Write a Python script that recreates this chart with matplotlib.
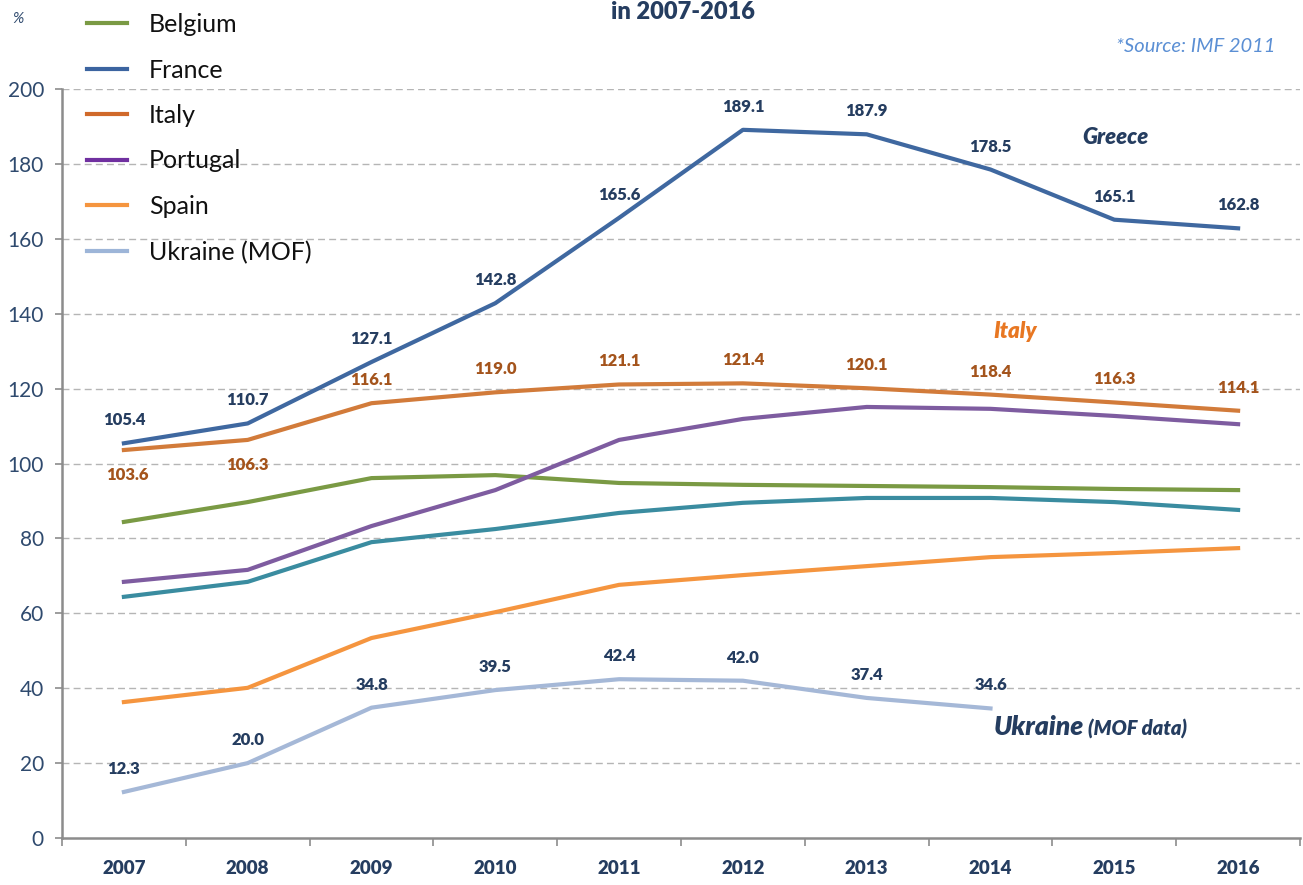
import numpy as np
import matplotlib
matplotlib.use("Agg")
import matplotlib.pyplot as plt
from matplotlib.lines import Line2D

plt.rcParams['font.family'] = ['Lato', 'DejaVu Sans']

years = ["2007", "2008", "2009", "2010", "2011", "2012", "2013", "2014", "2015", "2016"]
greece = [105.4, 110.7, 127.1, 142.8, 165.6, 189.1, 187.9, 178.5, 165.1, 162.8]
italy = [103.6, 106.3, 116.1, 119.0, 121.1, 121.4, 120.1, 118.4, 116.3, 114.1]
portugal = [68.4, 71.6, 83.3, 92.9, 106.3, 111.9, 115.1, 114.6, 112.7, 110.5]
belgium = [84.4, 89.7, 96.1, 96.9, 94.8, 94.3, 94.0, 93.7, 93.2, 92.9]
france = [64.4, 68.4, 79.0, 82.5, 86.8, 89.5, 90.8, 90.8, 89.7, 87.6]
spain = [36.3, 40.1, 53.4, 60.3, 67.6, 70.2, 72.6, 75.0, 76.1, 77.4]
ukraine = [12.3, 20.0, 34.8, 39.5, 42.4, 42.0, 37.4, 34.6]

legend_names = ["Belgium", "France", "Italy", "Portugal", "Spain", "Ukraine (MOF)"]
legend_colors = ["#7A9A44", "#3C64A0", "#D0692A", "#7030A0", "#F5953F", "#9DB5D8"]

c_greece = "#3F68A0"
c_italy = "#D27B3A"
c_portugal = "#7E5CA0"
c_belgium = "#7A9A44"
c_france = "#3A8CA0"
c_spain = "#F5953F"
c_ukraine = "#A5B8D7"
navy = "#253D60"
italy_lbl = "#A4541C"
heavy = "heavy"

fig = plt.figure(figsize=(13.03, 8.85), dpi=100)
ax = fig.add_axes([62/1303, 1-838/885, (1300-62)/1303, (838-89)/885])

x = np.arange(len(years))
lw = 3.0
ax.plot(x, spain, color=c_spain, lw=lw, zorder=3)
ax.plot(x[:len(ukraine)], ukraine, color=c_ukraine, lw=lw, zorder=3)
ax.plot(x, france, color=c_france, lw=lw, zorder=3)
ax.plot(x, belgium, color=c_belgium, lw=lw, zorder=3)
ax.plot(x, portugal, color=c_portugal, lw=lw, zorder=3)
ax.plot(x, italy, color=c_italy, lw=lw, zorder=4)
ax.plot(x, greece, color=c_greece, lw=lw, zorder=5)

lblsize = 12
for xi, v in zip(x, greece):
    ax.annotate(f"{v:.1f}", (xi, v), xytext=(0, 23), textcoords="offset pixels",
                ha="center", va="center", fontsize=lblsize, fontweight=heavy, color=navy)
for i, (xi, v) in enumerate(zip(x, italy)):
    dy = -25 if i < 2 else 23
    ax.annotate(f"{v:.1f}", (xi, v), xytext=(3 if i == 0 else 0, dy), textcoords="offset pixels",
                ha="center", va="center", fontsize=lblsize, fontweight=heavy, color=italy_lbl)
for xi, v in zip(x, ukraine):
    ax.annotate(f"{v:.1f}", (xi, v), xytext=(0, 23), textcoords="offset pixels",
                ha="center", va="center", fontsize=lblsize, fontweight=heavy, color=navy)

ax.set_xlim(-0.5, len(years) - 0.5)
ax.set_ylim(0, 200)
ax.set_yticks(np.arange(0, 201, 20))
ax.set_yticklabels([str(v) for v in range(0, 201, 20)], fontsize=15, color="#2F4A6E")
ax.set_xticks(x)
ax.set_xticklabels(years, fontsize=13.5, fontweight=heavy, color=navy)
ax.set_xticks(np.arange(-0.5, len(years), 1), minor=True)
ax.tick_params(axis="x", which="major", length=0, pad=16)
ax.tick_params(axis="x", which="minor", length=6, width=1.2, color="#8C8C8C", direction="out")
ax.tick_params(axis="y", length=5, width=1.2, color="#8C8C8C", pad=8)

for yv in range(20, 201, 20):
    ax.axhline(yv, color="#B5B5B5", lw=1.0, ls=(0, (5, 3)), zorder=1)

for s in ["top", "right"]:
    ax.spines[s].set_visible(False)
for s in ["left", "bottom"]:
    ax.spines[s].set_color("#8C8C8C")
    ax.spines[s].set_linewidth(1.8)

handles = [Line2D([], [], color=c, lw=3.0) for c in legend_colors]
leg = fig.legend(handles, legend_names, loc="upper left", bbox_to_anchor=(87/1303, 1-13/885),
                 frameon=False, fontsize=18, labelspacing=0.9, handlelength=1.6,
                 handletextpad=0.88, borderpad=0, borderaxespad=0)
for t in leg.get_texts():
    t.set_color("#111111")

fig.text(683/1303, 1-12/885, "in 2007-2016", ha="center", va="center",
         fontsize=17, fontweight=heavy, color=navy)
fig.text(18/1303, 1-19/885, "%", ha="center", va="center", fontsize=11,
         style="italic", color="#2F4A6E")
fig.text(1275/1303, 1-46/885, "*Source: IMF 2011", ha="right", va="center",
         fontsize=14.5, style="italic", color="#5B8FD4")

ax.annotate("Greece", (1115/1303, 1-137/885), xycoords="figure fraction", ha="center",
            va="center", fontsize=16, fontweight=heavy, style="italic", color=navy)
ax.annotate("Italy", (1015/1303, 1-332/885), xycoords="figure fraction", ha="center",
            va="center", fontsize=16, fontweight=heavy, style="italic", color="#E87722")
ax.annotate("Ukraine", (994/1303, 1-727/885), xycoords="figure fraction", ha="left",
            va="center", fontsize=19, fontweight=heavy, style="italic", color=navy)
ax.annotate("(MOF data)", (1088/1303, 1-729/885), xycoords="figure fraction", ha="left",
            va="center", fontsize=14.5, fontweight=heavy, style="italic", color=navy)

fig.savefig("out.png", dpi=100)
